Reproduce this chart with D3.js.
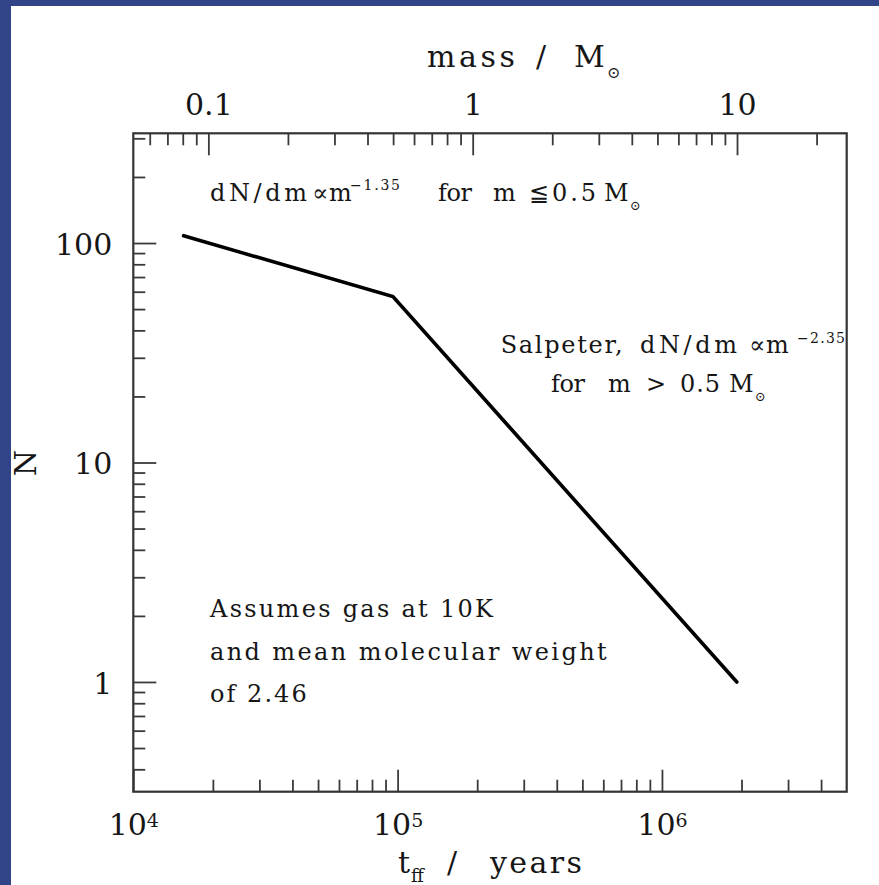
<!DOCTYPE html>
<html>
<head>
<meta charset="utf-8">
<script src="https://cdn.jsdelivr.net/npm/d3@7"></script>
<style>
  html, body { margin: 0; padding: 0; background: #ffffff; }
  svg { display: block; }
  text { font-family: "DejaVu Serif", "Liberation Serif", serif; fill: #161616; }
</style>
</head>
<body>
<svg id="chart" width="879" height="885"></svg>
<script>
// Number of stars N against free-fall time (bottom axis) and stellar mass (top axis)
const tffYears  = [1.55e4, 9.6e4, 1.92e6];
const starCount = [108, 57, 1];

// free-fall years corresponding to one solar mass on the top axis
const tffPerSolarMass = 1.923e5;

const timeMajorTicks = [1e4, 1e5, 1e6];
const timeExponents  = ["4", "5", "6"];
const timeMinorTicks = [2e4, 3e4, 4e4, 5e4, 6e4, 7e4, 8e4, 9e4,
                        2e5, 3e5, 4e5, 5e5, 6e5, 7e5, 8e5, 9e5,
                        2e6, 3e6, 4e6];

const massMajorTicks = [0.1, 1, 10];
const massTickLabels = ["0.1", "1", "10"];
const massMinorTicks = [0.06, 0.07, 0.08, 0.09,
                        0.2, 0.3, 0.4, 0.5, 0.6, 0.7, 0.8, 0.9,
                        2, 3, 4, 5, 6, 7, 8, 9, 20];

const countMajorTicks = [1, 10, 100];
const countTickLabels = ["1", "10", "100"];
const countMinorTicks = [0.4, 0.5, 0.6, 0.7, 0.8, 0.9,
                         2, 3, 4, 5, 6, 7, 8, 9,
                         20, 30, 40, 50, 60, 70, 80, 90,
                         200, 300];

const W = 879, H = 885;
const plot = { left: 133.3, top: 133.3, right: 846.7, bottom: 791.7 };

const svg = d3.select("#chart");

// page background with the blue slide border
svg.append("rect").attr("width", W).attr("height", H).attr("fill", "#ffffff");
svg.append("rect").attr("width", W).attr("height", 6).attr("fill", "#314487");
svg.append("rect").attr("width", 11).attr("height", H).attr("fill", "#314487");

const x = d3.scaleLog().domain([1e4, 5e6]).range([plot.left, plot.right]);
const y = d3.scaleLog().domain([Math.pow(10, -0.5), Math.pow(10, 2.5)]).range([plot.bottom, plot.top]);
const xm = d3.scaleLog()
  .domain(x.domain().map(t => t / tffPerSolarMass))
  .range([plot.left, plot.right]);

const tickColor = "#3a3a3a";
function styleAxis(g) {
  g.select(".domain").remove();
  g.selectAll(".tick line").attr("stroke", tickColor).attr("stroke-width", 1.8);
  g.selectAll("text").attr("font-family", "DejaVu Serif").attr("fill", "#161616");
}

// bottom axis: free-fall time
svg.append("g")
  .attr("transform", `translate(0,${plot.bottom})`)
  .call(d3.axisBottom(x).tickValues(timeMinorTicks).tickSizeInner(-12).tickSizeOuter(0).tickFormat(""))
  .call(styleAxis);

const bottomMajor = svg.append("g")
  .attr("transform", `translate(0,${plot.bottom})`)
  .call(d3.axisBottom(x).tickValues(timeMajorTicks).tickSizeInner(-22).tickSizeOuter(0).tickPadding(22)
    .tickFormat(() => ""))
  .call(styleAxis);
bottomMajor.selectAll(".tick text")
  .attr("font-size", 30)
  .each(function (d, i) {
    const t = d3.select(this);
    t.append("tspan").text("10");
    t.append("tspan").attr("dy", "-0.42em").attr("font-size", 19).text(timeExponents[i]);
  });

// top axis: stellar mass
svg.append("g")
  .attr("transform", `translate(0,${plot.top})`)
  .call(d3.axisTop(xm).tickValues(massMinorTicks).tickSizeInner(-12).tickSizeOuter(0).tickFormat(""))
  .call(styleAxis);
svg.append("g")
  .attr("transform", `translate(0,${plot.top})`)
  .call(d3.axisTop(xm).tickValues(massMajorTicks).tickSizeInner(-22).tickSizeOuter(0).tickPadding(18)
    .tickFormat((d, i) => massTickLabels[i]))
  .call(styleAxis)
  .selectAll(".tick text").attr("font-size", 30);

// left axis: number of stars
svg.append("g")
  .attr("transform", `translate(${plot.left},0)`)
  .call(d3.axisLeft(y).tickValues(countMinorTicks).tickSizeInner(-12).tickSizeOuter(0).tickFormat(""))
  .call(styleAxis);
svg.append("g")
  .attr("transform", `translate(${plot.left},0)`)
  .call(d3.axisLeft(y).tickValues(countMajorTicks).tickSizeInner(-23).tickSizeOuter(0).tickPadding(21)
    .tickFormat((d, i) => countTickLabels[i]))
  .call(styleAxis)
  .selectAll(".tick text").attr("font-size", 30).attr("dy", "0.38em");

// frame (no ticks on the right side)
svg.append("rect")
  .attr("x", plot.left).attr("y", plot.top)
  .attr("width", plot.right - plot.left).attr("height", plot.bottom - plot.top)
  .attr("fill", "none").attr("stroke", "#333333").attr("stroke-width", 2.2);

// mass function curve
const pts = tffYears.map((t, i) => ({ t, n: starCount[i] }));
svg.append("path")
  .datum(pts)
  .attr("fill", "none")
  .attr("stroke", "#000000")
  .attr("stroke-width", 3.6)
  .attr("stroke-linejoin", "miter")
  .attr("stroke-linecap", "round")
  .attr("d", d3.line().x(d => x(d.t)).y(d => y(d.n)));

// text helpers
function word(x0, y0, str, size, len) {
  const t = svg.append("text").attr("x", x0).attr("y", y0).attr("font-size", size).text(str);
  if (len) t.attr("textLength", len).attr("lengthAdjust", "spacing");
  return t;
}
function sun(x0, y0, size) {
  return svg.append("text").attr("x", x0).attr("y", y0).attr("font-size", size)
    .attr("font-family", "DejaVu Sans").text("\u2299");
}

// axis titles
word(427, 67, "mass", 30, 88);
word(536, 67, "/", 30);
word(574, 67, "M", 30, 30);
sun(607, 78, 16);

word(398, 873, "t", 30);
word(411, 882, "ff", 18, 19);
word(447, 873, "/", 30);
word(490, 873, "years", 30, 92);

svg.append("text")
  .attr("transform", "translate(36,463) rotate(-90)")
  .attr("text-anchor", "middle")
  .attr("font-size", 30)
  .text("N");

// annotations
const fs = 24;
word(210, 200.5, "dN/dm", fs, 97);
word(312, 200.5, "\u221D", fs);
word(329, 200.5, "m", fs);
word(350, 190, "\u22121.35", 14, 50);
word(438, 200.5, "for", fs, 34);
word(493, 200.5, "m", fs, 25);
word(529, 200.5, "\u22660.5", fs, 67);
word(604, 200.5, "M", fs, 23);
sun(630, 210, 13);

word(500.7, 353.3, "Salpeter,", fs, 122);
word(640, 353.3, "dN/dm", fs, 97);
word(749, 353.3, "\u221D", fs);
word(766, 353.3, "m", fs, 28);
word(797, 343, "\u22122.35", 14, 48);

word(551, 391.7, "for", fs, 34);
word(608, 391.7, "m", fs, 25);
word(646, 391.7, ">", fs);
word(680, 391.7, "0.5", fs, 40);
word(729, 391.7, "M", fs, 23);
sun(755, 401, 13);

word(210, 617, "Assumes gas at 10K", fs, 283);
word(210, 660, "and mean molecular weight", fs, 396.7);
word(210, 701.7, "of 2.46", fs, 96.7);
</script>
</body>
</html>
